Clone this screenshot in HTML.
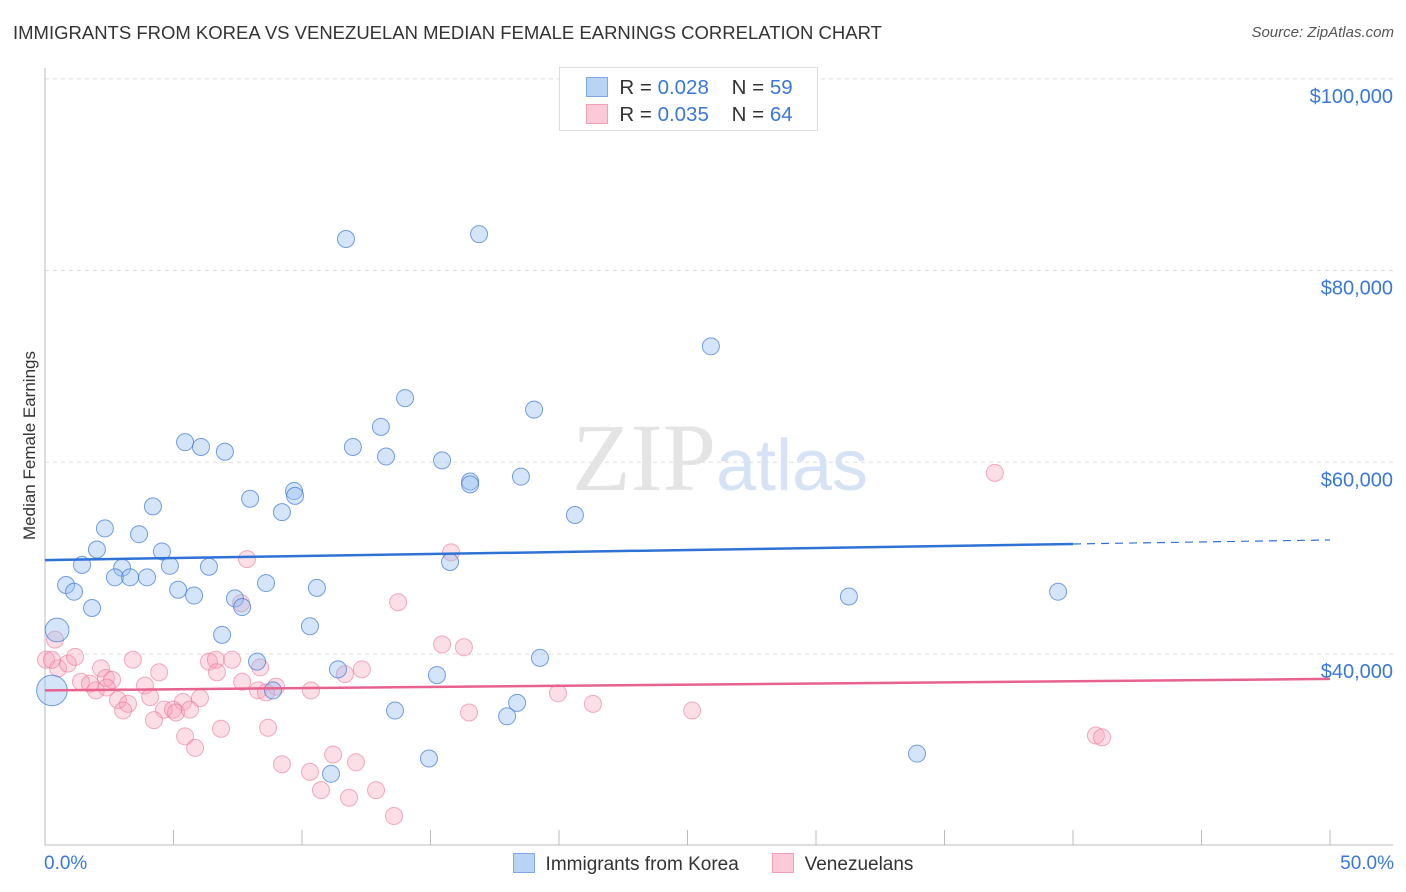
<!DOCTYPE html>
<html><head><meta charset="utf-8">
<style>
body{margin:0;background:#fff;font-family:"Liberation Sans",sans-serif;}
#wrap{position:relative;width:1406px;height:892px;overflow:hidden;}
.t{position:absolute;white-space:nowrap;}
</style></head>
<body>
<div id="wrap">
<div class="t" style="left:13px;top:22px;font-size:18.5px;color:#333;">IMMIGRANTS FROM KOREA VS VENEZUELAN MEDIAN FEMALE EARNINGS CORRELATION CHART</div>
<div class="t" style="right:12px;top:24px;font-size:15px;color:#555;font-style:italic;">Source: ZipAtlas.com</div>
<div class="t" style="left:-55px;top:445px;font-size:17px;color:#333;transform:rotate(-90deg);width:170px;text-align:center;">Median Female Earnings</div>
<svg id="plot" width="1406" height="892" style="position:absolute;left:0;top:0"></svg>
<div style="position:absolute;left:559px;top:67px;width:257px;height:62px;border:1px solid #ddd;background:#fff;font-size:20.5px;color:#333;">
 <div style="position:absolute;left:26px;top:8px;"><span style="display:inline-block;width:20px;height:18px;background:#b9d3f5;border:1px solid #7ea9e6;vertical-align:-3px;"></span>&nbsp; R = <span style="color:#3a78d8">0.028</span>&nbsp;&nbsp;&nbsp; N = <span style="color:#3a78d8">59</span></div>
 <div style="position:absolute;left:26px;top:35px;"><span style="display:inline-block;width:20px;height:18px;background:#fbc9d7;border:1px solid #f1a0b8;vertical-align:-3px;"></span>&nbsp; R = <span style="color:#3a78d8">0.035</span>&nbsp;&nbsp;&nbsp; N = <span style="color:#3a78d8">64</span></div>
</div>
<div class="t" style="left:44px;top:853px;font-size:19px;color:#3a78d8;">0.0%</div>
<div class="t" style="right:12px;top:853px;font-size:19px;color:#3a78d8;">50.0%</div>
<div style="position:absolute;left:513px;top:853px;font-size:19px;color:#333;">
 <span><span style="display:inline-block;width:20px;height:18px;background:#b9d3f5;border:1px solid #7ea9e6;vertical-align:-3px;"></span>&nbsp; Immigrants from Korea</span>
 <span style="margin-left:28px;"><span style="display:inline-block;width:20px;height:18px;background:#fbc9d7;border:1px solid #f1a0b8;vertical-align:-3px;"></span>&nbsp; Venezuelans</span>
</div>
</div>
<script>
const yTicks=[40000,60000,80000,100000];
const yTickLabels=["$40,000","$60,000","$80,000","$100,000"];
const koreaX=[11.71,16.89,25.91,14.01,19.03,13.07,11.98,13.27,15.45,5.45,6.07,7.00,16.54,16.54,18.52,7.98,9.69,9.73,4.20,9.22,20.62,2.33,3.66,2.02,4.55,15.76,1.44,3.00,4.86,6.38,2.72,3.31,3.97,0.82,1.13,8.60,10.58,5.18,5.80,7.39,7.67,1.83,31.28,39.42,10.31,6.89,0.47,8.25,11.40,15.25,19.26,18.37,17.98,13.62,8.87,14.94,33.93,11.13,0.27];
const koreaY=[83.3,83.8,72.1,66.7,65.5,63.7,61.6,60.6,60.2,62.1,61.6,61.1,58.0,57.7,58.5,56.2,57.0,56.5,55.4,54.8,54.5,53.1,52.5,50.9,50.7,49.6,49.3,49.0,49.2,49.1,48.0,48.0,48.0,47.2,46.5,47.4,46.9,46.7,46.1,45.8,44.9,44.8,46.0,46.5,42.9,42.0,42.5,39.2,38.4,37.8,39.6,34.9,33.5,34.1,36.2,29.1,29.6,27.5,36.2];
const koreaSize=[1,1,1,1,1,1,1,1,1,1,1,1,1,1,1,1,1,1,1,1,1,1,1,1,1,1,1,1,1,1,1,1,1,1,1,1,1,1,1,1,1,1,1,1,1,1,1.4,1,1,1,1,1,1,1,1,1,1,1,1.8];
const venX=[36.96,15.80,7.86,13.74,7.63,15.45,16.30,0.39,0.04,0.51,0.89,1.17,2.18,3.42,4.44,6.38,6.65,7.28,6.69,8.37,1.40,1.75,1.98,2.37,2.61,3.89,7.67,8.29,8.99,10.35,11.67,12.33,4.09,2.84,3.23,5.37,6.03,3.04,4.63,4.98,5.10,5.64,4.24,19.96,21.32,16.50,25.18,6.85,5.45,8.68,5.84,11.21,12.10,9.22,10.31,10.74,11.83,12.88,13.58,40.89,41.13,0.27,8.60,2.40];
const venY=[58.9,50.6,49.9,45.4,45.3,41.0,40.7,41.5,39.4,38.5,39.0,39.7,38.5,39.4,38.1,39.2,39.4,39.4,38.1,38.6,37.1,36.9,36.2,37.5,37.3,36.7,37.1,36.2,36.6,36.2,37.9,38.4,35.5,35.2,34.8,35.0,35.4,34.1,34.2,34.2,33.9,34.2,33.1,35.9,34.8,33.9,34.1,32.2,31.4,32.3,30.2,29.5,28.7,28.5,27.7,25.8,25.0,25.8,23.1,31.5,31.3,39.4,36.0,36.5];
const koreaTrend=[49.8,51.9];
const venTrend=[36.2,37.4];
const svg=document.getElementById('plot');
const NS='http://www.w3.org/2000/svg';
const X=v=>45+(v/50)*1285;
const Y=v=>654-(v-40)*9.585;
function el(t,a){const e=document.createElementNS(NS,t);for(const k in a)e.setAttribute(k,a[k]);svg.appendChild(e);return e;}
yTicks.forEach((t,i)=>{
 const g=el('line',{x1:45,x2:1393,y1:Y(t/1000),y2:Y(t/1000),stroke:'#ddd','stroke-dasharray':'4,4'});
 
 
 const tx=el('text',{x:1393,y:Y(t/1000)+24,'text-anchor':'end','font-size':20,fill:'#3a78d8','font-family':'Liberation Sans, sans-serif'});
 tx.textContent=yTickLabels[i];
 
 
});
const ax=el('line',{x1:45,x2:45,y1:68,y2:845,stroke:'#bbb'});


const bx=el('line',{x1:45,x2:1393,y1:845,y2:845,stroke:'#bbb'});


for(let i=0;i<=10;i++){
 const tk=el('line',{x1:X(i*5),x2:X(i*5),y1:830,y2:845,stroke:'#bbb'});
 
 
}
const wm=el('text',{x:720,y:490,'text-anchor':'middle','font-size':96,fill:'#e4e4e4','font-family':'Liberation Serif, serif'});
wm.innerHTML='ZIP<tspan font-family="Liberation Sans, sans-serif" font-size="72" fill="#d5e3f5">atlas</tspan>';


venX.forEach((x,i)=>{
 const c=el('circle',{cx:X(x),cy:Y(venY[i]),r:8.5,fill:'rgba(246,160,186,0.35)',stroke:'rgba(232,120,155,0.6)','stroke-width':1});
 
 
});
koreaX.forEach((x,i)=>{
 const c=el('circle',{cx:X(x),cy:Y(koreaY[i]),r:8.5*koreaSize[i],fill:'rgba(150,190,240,0.4)',stroke:'rgba(60,120,210,0.7)','stroke-width':1});
 
 
});
const kt=el('line',{x1:X(0),x2:X(40),y1:Y(koreaTrend[0]),y2:Y(koreaTrend[0]+(koreaTrend[1]-koreaTrend[0])*0.8),stroke:'#2f72d6','stroke-width':2.5});


const kd=el('line',{x1:X(40),x2:X(50),y1:Y(koreaTrend[0]+(koreaTrend[1]-koreaTrend[0])*0.8),y2:Y(koreaTrend[1]),stroke:'#2f72d6','stroke-width':1.2,'stroke-dasharray':'8,6'});


const vt=el('line',{x1:X(0),x2:X(50),y1:Y(venTrend[0]),y2:Y(venTrend[1]),stroke:'#e8628e','stroke-width':2.5});


</script>
</body></html>
